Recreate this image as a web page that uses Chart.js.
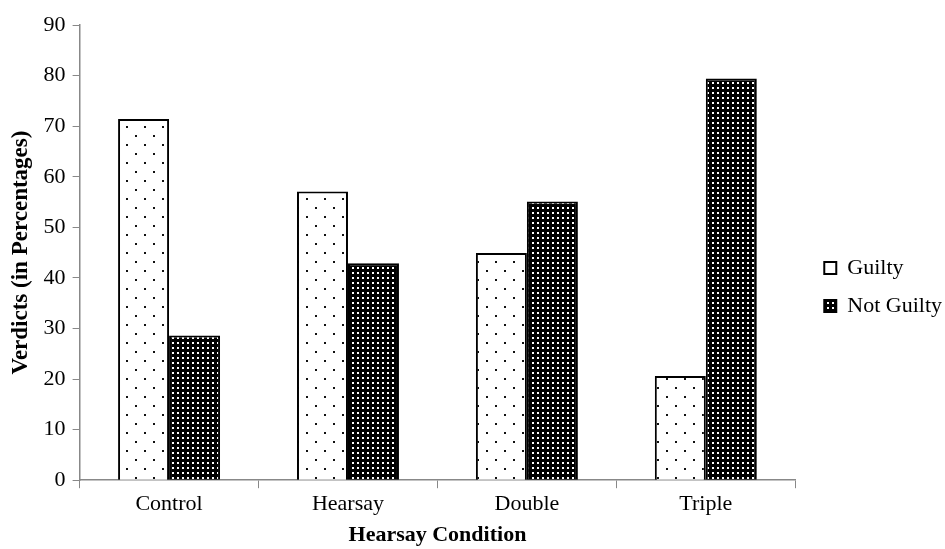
<!DOCTYPE html>
<html>
<head>
<meta charset="utf-8">
<script src="https://cdn.jsdelivr.net/npm/chart.js@4"></script>
<style>
  body { margin: 0; background: #fff; }
  #wrap { width: 945px; height: 549px; }
</style>
</head>
<body>
<div id="wrap"><canvas id="chartVerdicts" width="945" height="549"></canvas></div>
<script>
const categories = ["Control", "Hearsay", "Double", "Triple"];
const guilty = [71.4, 57.1, 44.9, 20.6];
const notGuilty = [28.6, 42.9, 55.1, 79.4];
const yTicks = [0, 10, 20, 30, 40, 50, 60, 70, 80, 90];

const serif = "'Liberation Serif', 'Times New Roman', serif";

// sparse dot fill for "Guilty"
function dotPattern() {
  const c = document.createElement("canvas");
  c.width = 18;
  c.height = 18;
  const g = c.getContext("2d");
  g.fillStyle = "#fff";
  g.fillRect(0, 0, 18, 18);
  g.fillStyle = "#111";
  g.fillRect(0, 0, 2, 2);
  g.fillRect(9, 9, 2, 2);
  return g.createPattern(c, "repeat");
}

// dense black grid with white holes for "Not Guilty"
function gridPattern() {
  const c = document.createElement("canvas");
  c.width = 5;
  c.height = 5;
  const g = c.getContext("2d");
  g.fillStyle = "#000";
  g.fillRect(0, 0, 5, 5);
  g.fillStyle = "#fff";
  g.fillRect(2, 2, 2, 2);
  return g.createPattern(c, "repeat");
}

// leave a wider gap between the plot and the legend
const legendGap = {
  id: "legendGap",
  beforeLayout(chart) {
    const lg = chart.legend;
    if (lg && !lg._gapWrapped) {
      const fit = lg.fit;
      lg.fit = function () {
        fit.call(this);
        this.width += 6;
      };
      lg._gapWrapped = true;
    }
  },
  afterLayout(chart) {
    if (chart.legend) chart.legend.left += 13;
  },
};

let ctx = document.getElementById("chartVerdicts");

const myChart = new Chart(ctx, {
  type: "bar",
  data: {
    labels: categories,
    datasets: [
      {
        label: "Guilty",
        data: guilty,
        backgroundColor: dotPattern(),
        borderColor: "#000",
        borderWidth: 2,
        barPercentage: 1,
        categoryPercentage: 0.57,
      },
      {
        label: "Not Guilty",
        data: notGuilty,
        backgroundColor: gridPattern(),
        borderColor: "#000",
        borderWidth: 2,
        barPercentage: 1,
        categoryPercentage: 0.57,
      },
    ],
  },
  options: {
    responsive: false,
    animation: false,
    layout: {
      padding: { top: 25, right: 0, left: 7, bottom: 0 },
    },
    plugins: {
      tooltip: { enabled: false },
      legend: {
        display: true,
        position: "right",
        labels: {
          boxWidth: 12,
          boxHeight: 12,
          padding: 16,
          color: "#000",
          font: { family: serif, size: 22 },
          generateLabels: (chart) => {
            const items = Chart.defaults.plugins.legend.labels.generateLabels(chart);
            items.forEach((it, i) => {
              if (i === 0) it.fillStyle = "#fff";
              it.lineWidth = 2;
              it.strokeStyle = "#000";
            });
            return items;
          },
        },
      },
    },
    scales: {
      x: {
        grid: {
          display: true,
          drawOnChartArea: false,
          tickLength: 8,
          color: "#888",
        },
        border: { color: "#888", width: 1.5 },
        ticks: {
          color: "#000",
          padding: 3,
          font: { family: serif, size: 22 },
        },
        title: {
          display: true,
          text: "Hearsay Condition",
          color: "#000",
          padding: { top: 2, bottom: 0 },
          font: { family: serif, size: 22, weight: "bold" },
        },
      },
      y: {
        min: 0,
        max: 90,
        afterBuildTicks: (axis) => {
          axis.ticks = yTicks.map((v) => ({ value: v }));
        },
        grid: {
          display: true,
          drawOnChartArea: false,
          tickLength: 7,
          color: "#888",
        },
        border: { color: "#888", width: 1.5 },
        ticks: {
          color: "#000",
          padding: 7,
          font: { family: serif, size: 22 },
        },
        title: {
          display: true,
          text: "Verdicts (in Percentages)",
          color: "#000",
          padding: { top: 0, bottom: 2 },
          font: { family: serif, size: 23, weight: "bold" },
        },
      },
    },
  },
  plugins: [legendGap],
});
</script>
</body>
</html>
